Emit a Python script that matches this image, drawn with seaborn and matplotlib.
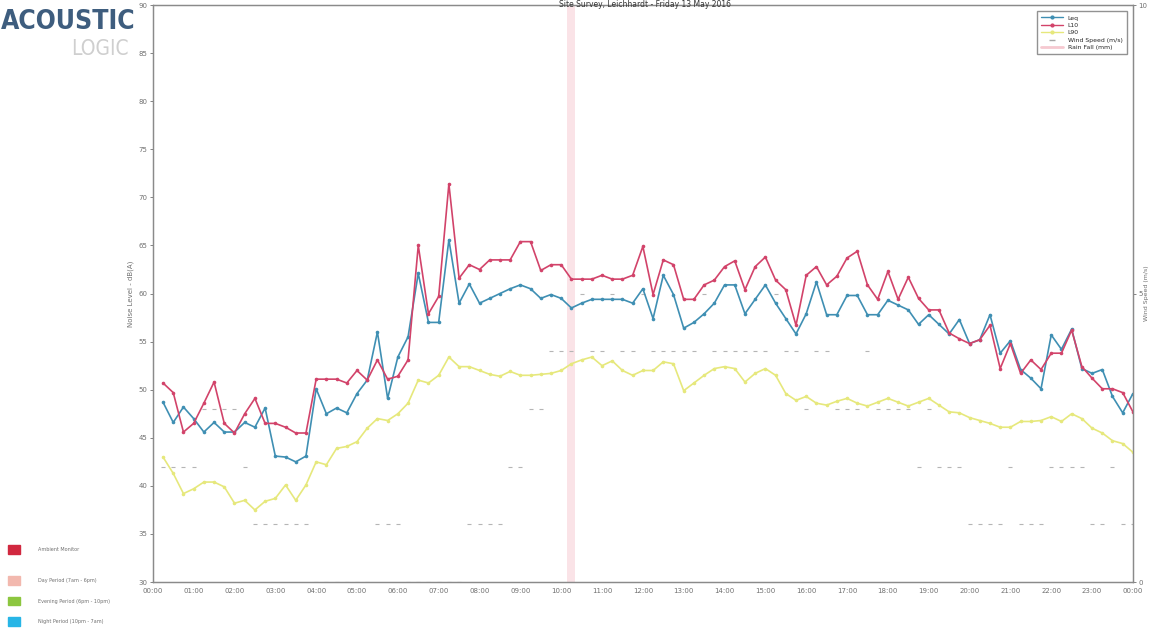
import matplotlib
import numpy as np
import pandas as pd
import seaborn as sns
import matplotlib.pyplot as plt
import matplotlib.dates as mdates
from matplotlib.lines import Line2D
from matplotlib.patches import Rectangle
matplotlib.use('Agg')

# 15 minute intervals, 00:15 through to midnight
times = pd.date_range('2016-05-13 00:15', periods=96, freq='15min')

leq = [48.7, 46.6, 48.2, 47.0, 45.6, 46.6, 45.6, 45.6, 46.6, 46.1, 48.1, 43.1,
       43.0, 42.5, 43.1, 50.1, 47.5, 48.1, 47.6, 49.6, 51.0, 56.0, 49.1, 53.4,
       55.5, 62.1, 57.0, 57.0, 65.6, 59.0, 61.0, 59.0,
       59.5, 60.0, 60.5, 60.9, 60.5, 59.5, 59.9, 59.5, 58.5, 59.0, 59.4, 59.4,
       59.4, 59.4, 59.0, 60.5, 57.4, 61.9, 59.9, 56.4, 57.0, 57.9, 59.0, 60.9,
       60.9, 57.9, 59.4, 60.9, 59.0, 57.4, 55.8, 57.9,
       61.2, 57.8, 57.8, 59.8, 59.8, 57.8, 57.8, 59.3, 58.8, 58.3, 56.8, 57.8,
       56.8, 55.8, 57.3, 54.8, 55.2, 57.8, 53.8, 55.1, 52.1, 51.2, 50.1, 55.7,
       54.2, 56.3, 52.2, 51.7, 52.1, 49.3, 47.6, 49.6]

l10 = [50.7, 49.7, 45.6, 46.5, 48.6, 50.8, 46.5, 45.5, 47.5, 49.1, 46.5, 46.5,
       46.1, 45.5, 45.5, 51.1, 51.1, 51.1, 50.7, 52.0, 51.0, 53.1, 51.1, 51.4,
       53.1, 65.0, 57.9, 59.7, 71.4, 61.6, 63.0, 62.5,
       63.5, 63.5, 63.5, 65.4, 65.4, 62.4, 63.0, 63.0, 61.5, 61.5, 61.5, 61.9,
       61.5, 61.5, 61.9, 64.9, 59.9, 63.5, 63.0, 59.4, 59.4, 60.9, 61.4, 62.8,
       63.4, 60.4, 62.8, 63.8, 61.4, 60.4, 56.7, 61.9,
       62.8, 60.9, 61.8, 63.7, 64.4, 60.9, 59.4, 62.3, 59.4, 61.7, 59.5, 58.3,
       58.3, 55.9, 55.3, 54.8, 55.2, 56.7, 52.2, 54.8, 51.7, 53.1, 52.1, 53.8,
       53.8, 56.2, 52.4, 51.2, 50.1, 50.1, 49.7, 47.7]

l90 = [43.0, 41.3, 39.2, 39.7, 40.4, 40.4, 39.9, 38.2, 38.5, 37.5, 38.4, 38.7,
       40.1, 38.5, 40.1, 42.5, 42.2, 43.9, 44.1, 44.6, 46.0, 47.0, 46.8, 47.5,
       48.6, 51.0, 50.7, 51.5, 53.4, 52.4, 52.4, 52.0,
       51.6, 51.4, 51.9, 51.5, 51.5, 51.6, 51.7, 52.0, 52.7, 53.1, 53.4, 52.5,
       53.0, 52.0, 51.5, 52.0, 52.0, 52.9, 52.7, 49.9, 50.7, 51.5, 52.2, 52.4,
       52.2, 50.8, 51.7, 52.2, 51.5, 49.6, 48.9, 49.3,
       48.6, 48.4, 48.8, 49.1, 48.6, 48.3, 48.7, 49.1, 48.7, 48.3, 48.7, 49.1,
       48.4, 47.7, 47.6, 47.1, 46.8, 46.5, 46.1, 46.1, 46.7, 46.7, 46.8, 47.2,
       46.7, 47.5, 47.0, 46.0, 45.5, 44.7, 44.4, 43.5]

wind_ms = [2, 2, 2, 2, 3, 3, 3, 3, 2, 1, 1, 1, 1, 1, 1, 0, 0, 0, 0, 0, 0, 1, 1, 1,
           0, 0, 0, 0, 0, 0, 1, 1, 1, 1, 2, 2, 3, 3, 4, 4, 4, 5, 4, 4, 5, 4, 4, 5,
           4, 4, 4, 4, 4, 5, 4, 4, 4, 4, 4, 4, 5, 4, 4, 3, 4, 4, 3, 3, 3, 4, 3, 3,
           3, 3, 2, 3, 2, 2, 2, 1, 1, 1, 1, 2, 1, 1, 1, 2, 2, 2, 2, 1, 1, 2, 1, 1]

rain_time = ['10:15']
rain_mm = [10.0]

title = 'Site Survey, Leichhardt - Friday 13 May 2016'
period_labels = ['Ambient Monitor', 'Day Period (7am - 6pm)',
                 'Evening Period (6pm - 10pm)', 'Night Period (10pm - 7am)']
period_colors = ['#d1283f', '#f2b8ae', '#8cc63f', '#27b5e6']

red = '#d2436a'
blue = '#3f8fb3'
yellow = '#e6e87c'
grey_txt = '#707070'

df = pd.DataFrame({'time': times, 'Leq': leq, 'L10': l10, 'L90': l90,
                   'wind': wind_ms})

sns.set_style('white')
plt.rcParams['font.family'] = ['DejaVu Sans']

fig = plt.figure(figsize=(11.49, 6.32), dpi=100)
ax = fig.add_axes([0.133, 0.079, 0.853, 0.913])
ax2 = ax.twinx()

# rain and wind sit on the right hand axis, behind the noise levels
rain_x = pd.to_datetime(['2016-05-13 ' + t for t in rain_time])
ax2.bar(rain_x, rain_mm, width=0.008, color='#f6c9d0', alpha=0.5,
        linewidth=0)
sns.scatterplot(data=df, x='time', y='wind', ax=ax2, marker='_', s=10,
                color='#b5b5b5', linewidth=0.8, legend=False)

line_kw = dict(marker='o', markersize=2.6, markeredgewidth=0, linewidth=1.2)
sns.lineplot(data=df, x='time', y='L90', ax=ax, color=yellow, **line_kw)
sns.lineplot(data=df, x='time', y='Leq', ax=ax, color=blue, **line_kw)
sns.lineplot(data=df, x='time', y='L10', ax=ax, color=red, **line_kw)

ax.set_zorder(ax2.get_zorder() + 1)
ax.patch.set_visible(False)

ax.set_xlim(pd.Timestamp('2016-05-13 00:00'), pd.Timestamp('2016-05-14 00:00'))
ax.xaxis.set_major_locator(mdates.HourLocator())
ax.xaxis.set_major_formatter(mdates.DateFormatter('%H:%M'))
ax.set_ylim(30, 90)
ax.set_yticks(range(30, 91, 5))
ax2.set_ylim(0, 10)
ax2.set_yticks([0, 5, 10])

ax.set_xlabel('')
ax.set_ylabel('Noise Level - dB(A)', fontsize=5, color=grey_txt, labelpad=3)
ax2.set_ylabel('Wind Speed (m/s)', fontsize=4.5, color=grey_txt)
ax2.yaxis.set_label_coords(1.0115, 0.5)

for a in (ax, ax2):
    a.tick_params(labelsize=5, colors=grey_txt, length=2, width=0.6, pad=2)
    for s in a.spines.values():
        s.set_color('#8a8a8a')
        s.set_linewidth(0.9)
ax.tick_params(axis='x', pad=2)

handles = [
    Line2D([], [], color=blue, marker='o', markersize=2, lw=1),
    Line2D([], [], color=red, marker='o', markersize=2, lw=1),
    Line2D([], [], color=yellow, marker='o', markersize=2, lw=1),
    Line2D([], [], color='#a8a8a8', marker='_', lw=0, markersize=4),
    Line2D([], [], color='#f6c9d0', lw=2),
]
ax.legend(handles, ['Leq', 'L10', 'L90', 'Wind Speed (m/s)', 'Rain Fall (mm)'],
          loc='upper right', bbox_to_anchor=(0.997, 0.995), fontsize=4.4,
          frameon=True, fancybox=False, edgecolor='#777777',
          handlelength=3.6, borderpad=0.7, labelspacing=0.35)

fig.text(0.561, 1.0, title, fontsize=5.5, ha='center', va='top',
         color='#333333')

# company logo, top left
fig.text(0.001, 0.965, 'ACOUSTIC', fontsize=19, fontweight='bold',
         fontstretch='condensed', color='#3e5d7e', ha='left', va='center')
fig.text(0.062, 0.922, 'LOGIC', fontsize=15, fontstretch='condensed',
         color='#cfcfcf', ha='left', va='center')

# period key, bottom left
key_y = [0.131, 0.082, 0.049, 0.016]
for yy, lab, col in zip(key_y, period_labels, period_colors):
    fig.patches.append(Rectangle((0.007, yy - 0.007), 0.010, 0.014,
                                 transform=fig.transFigure, color=col))
    fig.text(0.033, yy, lab, fontsize=3.5, color=grey_txt, va='center')

fig.savefig('out.png', dpi=100)
